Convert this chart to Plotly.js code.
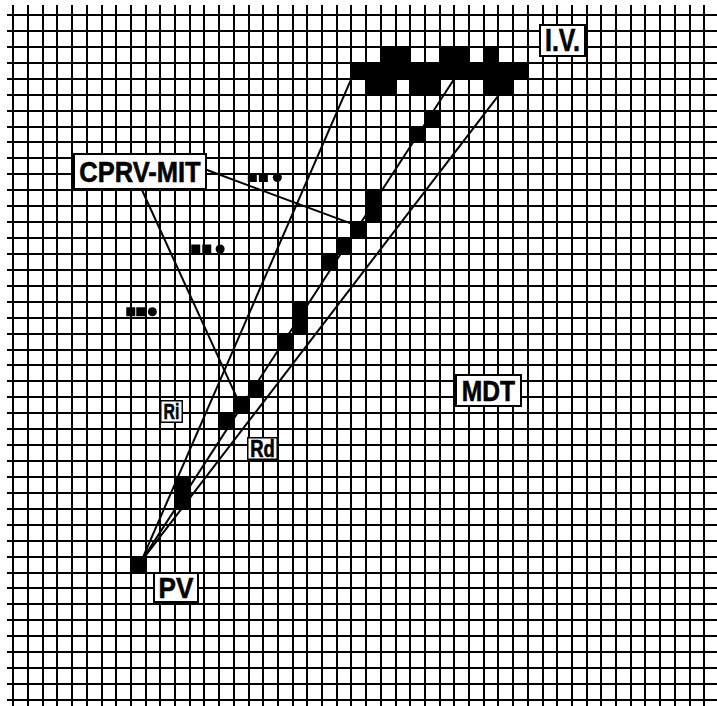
<!DOCTYPE html>
<html>
<head>
<meta charset="utf-8">
<script src="https://cdn.plot.ly/plotly-3.0.1.min.js"></script>
<style>html,body{margin:0;padding:0;background:#fff;}#chart{width:717px;height:706px;}</style>
</head>
<body>
<div id="chart"></div>
<script>
// Grid: columns (vertical lines) 0..47, rows (horizontal lines) 0..43
const nCols = 48;
const nRows = 44;

// Filled (black) cells: column index, row index (row 0 at top)
const cellCols = [25,26,29,30,32,
                  23,24,25,26,27,28,29,30,31,32,33,34,
                  24,25,27,28,32,33,
                  28,27,24,24,23,22,21,19,19,18,16,15,14,11,11,8];
const cellRows = [2,2,2,2,2,
                  3,3,3,3,3,3,3,3,3,3,3,3,
                  4,4,4,4,4,4,
                  6,7,11,12,13,14,15,18,19,20,23,24,25,29,30,34];

// Fan lines from PV to I.V. (grid units)
const lineRiX = [8.7, 23.0];   const lineRiY = [34.3, 4.0];
const lineMidX = [8.7, 30.0];  const lineMidY = [34.3, 4.0];
const lineRdX = [8.7, 33.05];  const lineRdY = [34.3, 5.0];

// Pointer lines from the CPRV-MIT label
const ptrAX = [13.0, 23.0];  const ptrAY = [9.67, 13.1];
const ptrBX = [8.69, 15.2];  const ptrBY = [10.86, 24.0];

// "..." dot groups
const dotX = [16.26, 17.01, 17.96, 12.41, 13.16, 14.07, 7.99, 8.67, 9.46];
const dotY = [10.2, 10.2, 10.2, 14.69, 14.69, 14.69, 18.63, 18.63, 18.63];
const dotShape = ['square','square','circle','square','square','circle','square','square','circle'];

// Labels
const labelText = ['CPRV-MIT', 'I.V.', 'PV', 'MDT', 'Ri', 'Rd'];
const labelX = [8.62, 37.38, 11.06, 32.32, 10.78, 16.96];
const labelY = [9.82, 1.57, 35.96, 23.56, 24.9, 27.2];

// Build heatmap matrix
const cx = [], cy = [];
for (let c = 0; c < nCols; c++) cx.push(c + 0.5);
for (let r = 0; r < nRows; r++) cy.push(r + 0.5);
const z = [];
for (let r = 0; r < nRows; r++) { const row = []; for (let c = 0; c < nCols; c++) row.push(null); z.push(row); }
for (let i = 0; i < cellCols.length; i++) z[cellRows[i]][cellCols[i]] = 1;

const lineStyle = {color: '#000', width: 2};
const traces = [
  {type: 'heatmap', x: cx, y: cy, z: z, zmin: 0, zmax: 1, showscale: false,
   colorscale: [[0, '#000'], [1, '#000']], hoverinfo: 'skip', zsmooth: false},
  {type: 'scatter', mode: 'lines', x: lineRiX, y: lineRiY, line: lineStyle, hoverinfo: 'skip'},
  {type: 'scatter', mode: 'lines', x: lineMidX, y: lineMidY, line: lineStyle, hoverinfo: 'skip'},
  {type: 'scatter', mode: 'lines', x: lineRdX, y: lineRdY, line: lineStyle, hoverinfo: 'skip'},
  {type: 'scatter', mode: 'lines', x: ptrAX, y: ptrAY, line: lineStyle, hoverinfo: 'skip'},
  {type: 'scatter', mode: 'lines', x: ptrBX, y: ptrBY, line: lineStyle, hoverinfo: 'skip'},
  {type: 'scatter', mode: 'markers', x: dotX, y: dotY, hoverinfo: 'skip',
   marker: {symbol: dotShape, size: 9, color: '#000', line: {width: 0}}}
];

const fam = 'Liberation Sans, Arial, sans-serif';
const boxW = [130, 43, 42, 63, 20, 28];
const boxH = [33, 29, 27, 29, 20, 20];
const fontSz = [30, 31, 30, 30, 22, 23];
const bw = [2, 2, 2, 2, 1.5, 1.5];
const squeeze = [0.85, 0.8, 0.87, 0.82, 0.72, 0.8];
const annotations = labelText.map((t, i) => ({
  x: labelX[i], y: labelY[i], xref: 'x', yref: 'y', text: t, showarrow: false,
  font: {family: fam, size: fontSz[i], color: '#000', weight: 'bold'},
  bgcolor: '#fff', bordercolor: '#000', borderwidth: bw[i], borderpad: 0,
  width: boxW[i], height: boxH[i], align: 'center', valign: 'middle',
  xanchor: 'center', yanchor: 'middle'
}));

const axisCommon = {dtick: 1, tick0: 0, showgrid: true, gridcolor: '#000', gridwidth: 2,
  showticklabels: false, ticks: '', zeroline: false, showline: false, fixedrange: true};

const layout = {
  width: 717, height: 706,
  margin: {l: 7, r: 0, t: 5, b: 0, pad: 0},
  paper_bgcolor: '#fff', plot_bgcolor: '#fff',
  showlegend: false,
  xaxis: Object.assign({range: [-0.4286, 47.87]}, axisCommon),
  yaxis: Object.assign({range: [43.38, -0.628]}, axisCommon),
  annotations: annotations
};

Plotly.newPlot('chart', traces, layout, {staticPlot: true, displayModeBar: false}).then(function () {
  // condense the bold label lettering horizontally, like the original's narrow typeface
  const texts = document.querySelectorAll('#chart .annotation-text');
  texts.forEach(function (el) {
    const txt = el.textContent;
    const idx = labelText.indexOf(txt);
    if (idx < 0) return;
    el.removeAttribute('clip-path');
    el.style.clipPath = 'none';
    el.style.stroke = '#000';
    el.style.strokeWidth = '0.6px';
    const bb = el.getBBox();
    const c = bb.x + bb.width / 2;
    const s = squeeze[idx];
    el.setAttribute('transform', 'translate(' + c + ',0) scale(' + s + ',1) translate(' + (-c) + ',0)');
  });
});
</script>
</body>
</html>
